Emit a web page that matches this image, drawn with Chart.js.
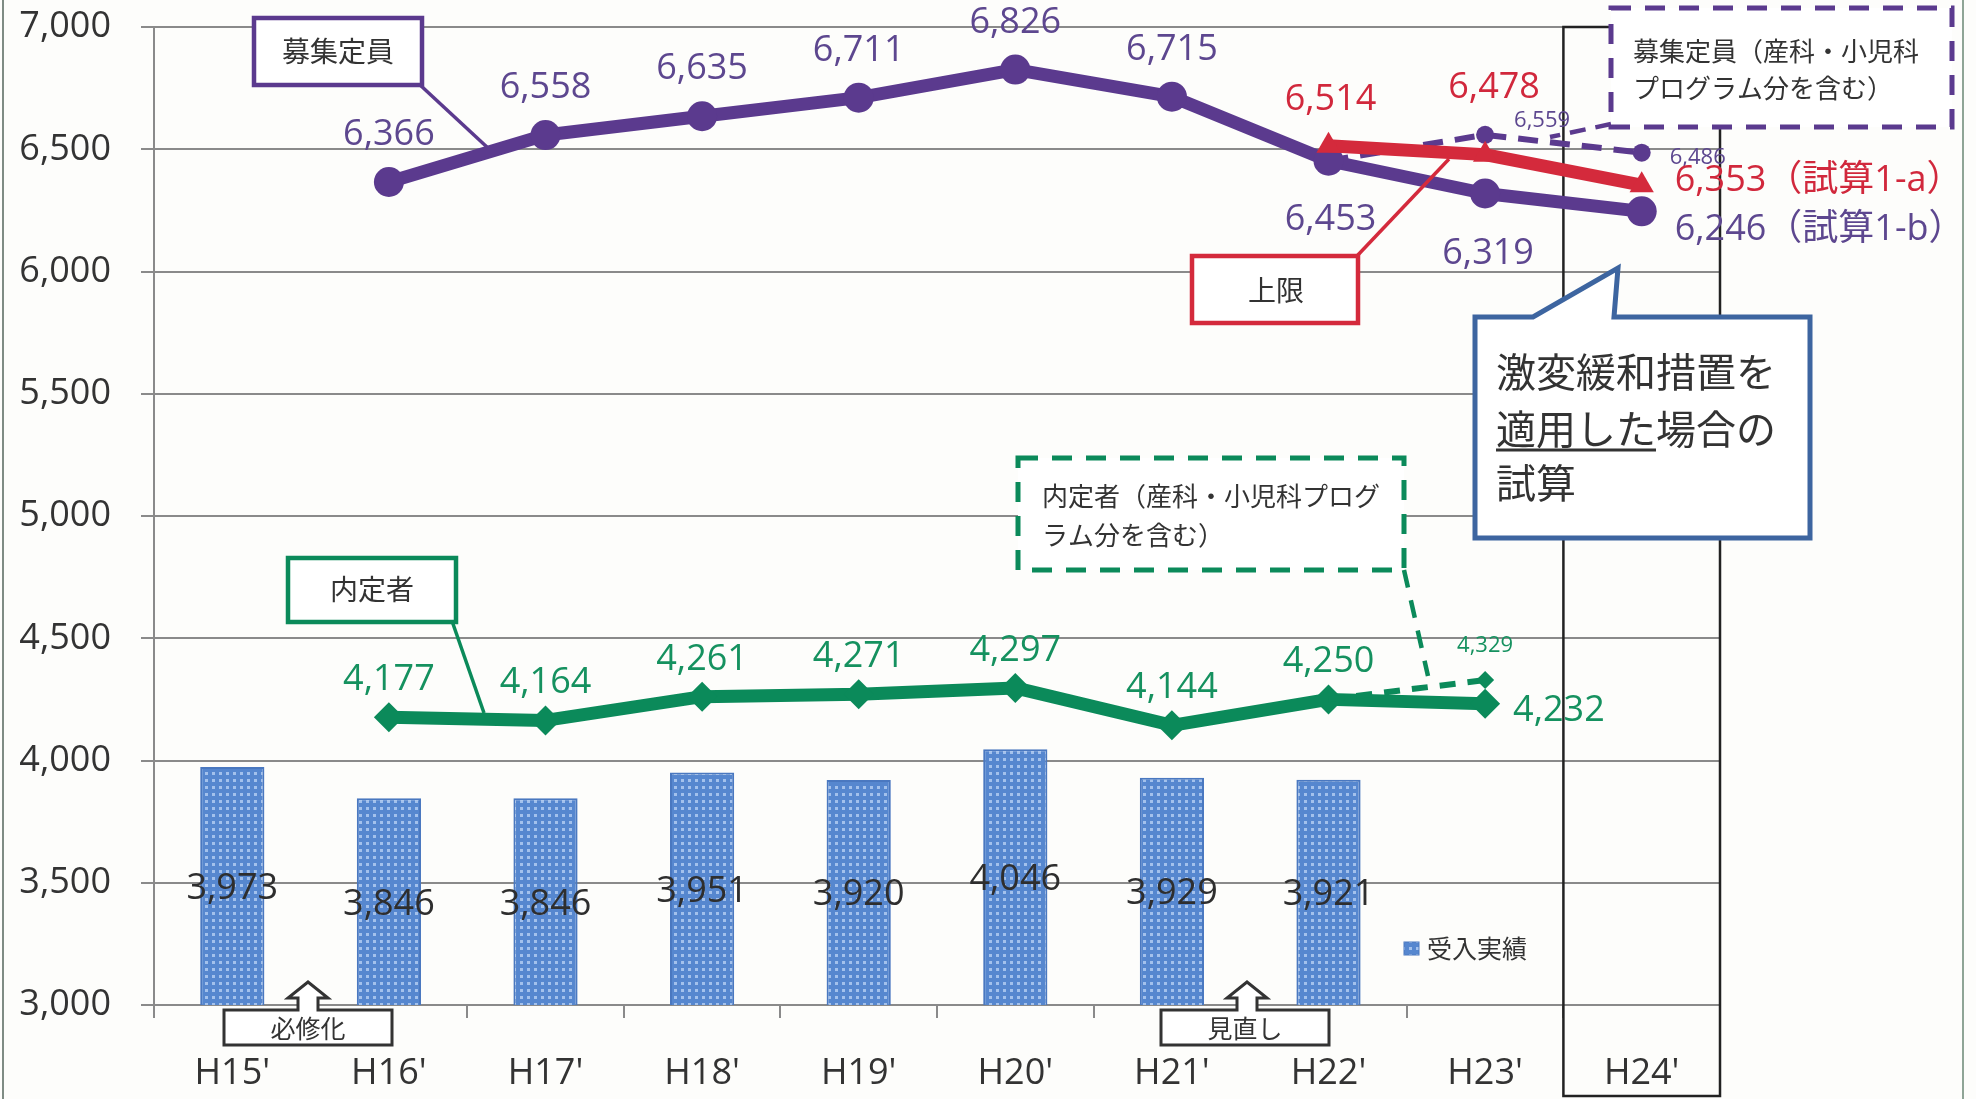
<!DOCTYPE html>
<html><head><meta charset="utf-8">
<script src="https://cdn.jsdelivr.net/npm/chart.js@4"></script>
<style>
html,body{margin:0;padding:0;background:#fdfdfb;}
#wrap{position:relative;width:1976px;height:1099px;}
canvas{display:block;}
</style>
</head><body>
<div id="wrap"><canvas id="c" width="1976" height="1099"></canvas></div>
<script>
// ---------------- data ----------------
const categories = ["H15'","H16'","H17'","H18'","H19'","H20'","H21'","H22'","H23'","H24'"];
const acceptedActual      = [3973,3846,3846,3951,3920,4046,3929,3921,null,null];
const recruitCapacity     = [null,6366,6558,6635,6711,6826,6715,6453,6319,6246];
const recruitCapacityIncl = [null,null,null,null,null,null,null,6453,6559,6486];
const upperLimit          = [null,null,null,null,null,null,null,6514,6478,6353];
const offers              = [null,4177,4164,4261,4271,4297,4144,4250,4232,null];
const offersIncl          = [null,null,null,null,null,null,null,4250,4329,null];
const yTickValues = [3000,3500,4000,4500,5000,5500,6000,6500,7000];
const seriesNames = ['受入実績','募集定員','募集定員（産科・小児科プログラム分を含む）','上限','内定者','内定者（産科・小児科プログラム分を含む）'];
const trialSuffixA = '（試算1-a）';
const trialSuffixB = '（試算1-b）';

// ---------------- styles ----------------
const PURPLE = '#5b3a8e', PURPLE_T = '#5d478f';
const RED = '#d42a3c', RED_T = '#d1283c';
const GREEN = '#0b8a5a', GREEN_T = '#15915f';
const BLUE_CALLOUT = '#3d65a0';
const DARK = '#333333';
const NUM = '"Open Sans","Noto Sans CJK JP",sans-serif';
const CJK = '"Noto Sans CJK JP",sans-serif';

function makePattern() {
  const p = document.createElement('canvas');
  p.width = 7; p.height = 7;
  const g = p.getContext('2d');
  g.fillStyle = '#5687cf'; g.fillRect(0,0,7,7);
  g.fillStyle = '#a3c1ec'; g.fillRect(2,2,3,3);
  return document.getElementById('c').getContext('2d').createPattern(p,'repeat');
}
const barPattern = makePattern();

function fmt(v){ return v.toLocaleString('en-US'); }

function txt(ctx, s, x, y, size, color, align, family, weight) {
  ctx.font = (weight||'normal') + ' ' + size + 'px ' + (family||NUM);
  ctx.fillStyle = color;
  ctx.textAlign = align || 'center';
  ctx.textBaseline = 'alphabetic';
  ctx.fillText(s, x, y + size*0.36);
}

// label placement per dataset
const labelRules = {
  0: i => ({center:true, size:36, color:'#2e2e2e'}),
  1: i => {
    if (i === 7) return {dx:2, dy:56, size:36, color:PURPLE_T};
    if (i === 8) return {dx:3, dy:58, size:36, color:PURPLE_T};
    if (i === 9) return {dx:33, dy:16, size:36, color:PURPLE_T, align:'left', suffix:trialSuffixB};
    return {dx:0, dy:-50, size:36, color:PURPLE_T};
  },
  2: i => {
    if (i === 8) return {dx:57, dy:-16, size:22, color:PURPLE_T};
    if (i === 9) return {dx:28, dy:3, size:22, color:PURPLE_T, align:'left'};
    return null;
  },
  3: i => {
    if (i === 7) return {dx:2, dy:-49, size:36, color:RED_T};
    if (i === 8) return {dx:9, dy:-70, size:36, color:RED_T};
    if (i === 9) return {dx:33, dy:-7, size:36, color:RED_T, align:'left', suffix:trialSuffixA};
    return null;
  },
  4: i => {
    if (i === 8) return {dx:28, dy:4, size:36, color:GREEN_T, align:'left'};
    return {dx:0, dy:-40, size:36, color:GREEN_T};
  },
  5: i => (i === 8 ? {dx:0, dy:-36, size:22, color:GREEN_T} : null)
};

function boxLabel(ctx, x1, y1, x2, y2, stroke, lw, dash) {
  ctx.save();
  ctx.fillStyle = '#ffffff';
  ctx.fillRect(x1, y1, x2-x1, y2-y1);
  ctx.strokeStyle = stroke; ctx.lineWidth = lw;
  if (dash) ctx.setLineDash(dash);
  ctx.strokeRect(x1, y1, x2-x1, y2-y1);
  ctx.restore();
}
function line(ctx, pts, color, lw, dash) {
  ctx.save();
  ctx.strokeStyle = color; ctx.lineWidth = lw;
  if (dash) ctx.setLineDash(dash);
  ctx.beginPath();
  ctx.moveTo(pts[0][0], pts[0][1]);
  for (let k=1;k<pts.length;k++) ctx.lineTo(pts[k][0], pts[k][1]);
  ctx.stroke();
  ctx.restore();
}
function arrowBox(ctx, cx, x1, x2, y1, y2, label) {
  const tip = y1 - 28, headY = y1 - 12, hw = 20, sw = 10;
  ctx.save();
  ctx.beginPath();
  ctx.moveTo(x1, y1);
  ctx.lineTo(cx - sw, y1);
  ctx.lineTo(cx - sw, headY);
  ctx.lineTo(cx - hw, headY);
  ctx.lineTo(cx, tip);
  ctx.lineTo(cx + hw, headY);
  ctx.lineTo(cx + sw, headY);
  ctx.lineTo(cx + sw, y1);
  ctx.lineTo(x2, y1);
  ctx.lineTo(x2, y2);
  ctx.lineTo(x1, y2);
  ctx.closePath();
  ctx.fillStyle = '#ffffff'; ctx.fill();
  ctx.strokeStyle = DARK; ctx.lineWidth = 3; ctx.stroke();
  ctx.restore();
  txt(ctx, label, (x1+x2)/2, (y1+y2)/2 + 1, 25, DARK, 'center', CJK);
}

const annot = {
  id: 'annot',
  beforeDatasetsDraw(chart) {
    const {ctx, chartArea, scales:{x}} = chart;
    const step = x.getPixelForTick(1) - x.getPixelForTick(0);
    const cx = x.getPixelForTick(categories.length-1);
    ctx.save();
    ctx.strokeStyle = '#222'; ctx.lineWidth = 2.5;
    ctx.strokeRect(cx - step/2, chartArea.top, step, chart.height - 3 - chartArea.top);
    ctx.restore();
  },
  afterDatasetsDraw(chart) {
    const ctx = chart.ctx;
    const ys = chart.scales.y;
    // ---- data labels ----
    chart.data.datasets.forEach((ds, di) => {
      const meta = chart.getDatasetMeta(di);
      const rule = labelRules[di];
      ds.data.forEach((v, i) => {
        if (v === null || v === undefined) return;
        const r = rule(i); if (!r) return;
        const el = meta.data[i];
        let x = el.x, y;
        if (r.center) {
          y = (ys.getPixelForValue(v) + ys.getPixelForValue(ys.min)) / 2;
        } else {
          x += r.dx; y = ys.getPixelForValue(v) + r.dy;
        }
        txt(ctx, fmt(v) + (r.suffix||''), x, y, r.size, r.color, r.align||'center');
      });
    });

    // ---- annotation boxes ----
    line(ctx, [[419,84],[488,148]], PURPLE, 3.5);
    boxLabel(ctx, 254, 18, 422, 85, PURPLE, 4.5);
    txt(ctx, '募集定員', 338, 52, 28, DARK, 'center', CJK);

    line(ctx, [[452,621],[484,713]], GREEN, 3.5);
    boxLabel(ctx, 288, 558, 456, 622, GREEN, 4.5);
    txt(ctx, '内定者', 372, 590, 28, DARK, 'center', CJK);

    line(ctx, [[1404,570],[1428,676]], GREEN, 4.5, [18,13]);
    boxLabel(ctx, 1018, 458, 1404, 570, GREEN, 5, [20,14]);
    txt(ctx, '内定者（産科・小児科プログ', 1042, 497, 26, DARK, 'left', CJK);
    txt(ctx, 'ラム分を含む）', 1042, 536, 26, DARK, 'left', CJK);

    line(ctx, [[1611,124],[1550,137]], PURPLE, 4.5, [16,10]);
    boxLabel(ctx, 1611, 8, 1952, 127, PURPLE, 5, [20,14]);
    txt(ctx, '募集定員（産科・小児科', 1633, 52, 26, DARK, 'left', CJK);
    txt(ctx, 'プログラム分を含む）', 1633, 89, 26, DARK, 'left', CJK);

    line(ctx, [[1356,257],[1449,159]], RED, 3.5);
    boxLabel(ctx, 1192, 256, 1358, 323, RED, 4.5);
    txt(ctx, '上限', 1276, 291, 28, DARK, 'center', CJK);

    ctx.save();
    ctx.beginPath();
    ctx.moveTo(1475,317); ctx.lineTo(1533,317); ctx.lineTo(1618,268); ctx.lineTo(1614,317);
    ctx.lineTo(1810,317); ctx.lineTo(1810,538); ctx.lineTo(1475,538); ctx.closePath();
    ctx.fillStyle = '#ffffff'; ctx.fill();
    ctx.strokeStyle = BLUE_CALLOUT; ctx.lineWidth = 5; ctx.lineJoin = 'miter'; ctx.stroke();
    ctx.restore();
    txt(ctx, '激変緩和措置を', 1496, 373, 40, DARK, 'left', CJK);
    txt(ctx, '適用した場合の', 1496, 430, 40, DARK, 'left', CJK);
    txt(ctx, '試算', 1496, 484, 40, DARK, 'left', CJK);
    ctx.save();
    ctx.font = 'normal 40px ' + CJK;
    const uw = ctx.measureText('適用した').width;
    ctx.restore();
    line(ctx, [[1496,450],[1496+uw,450]], DARK, 3);

    arrowBox(ctx, 308, 224, 392, 1010, 1045, '必修化');
    arrowBox(ctx, 1247, 1161, 1329, 1010, 1045, '見直し');

    ctx.save();
    ctx.fillStyle = barPattern; ctx.fillRect(1404,942,15,13);
    ctx.strokeStyle = '#4a78c0'; ctx.lineWidth = 1; ctx.strokeRect(1404,942,15,13);
    ctx.restore();
    txt(ctx, seriesNames[0], 1427, 949, 25, DARK, 'left', CJK);

    line(ctx, [[3,0],[3,1099]], '#7f8c84', 2);
    line(ctx, [[1963,0],[1963,1099]], '#8fa596', 2);
  }
};

const pr = small => (c => (c.dataIndex === 7 ? 0 : small));

new Chart(document.getElementById('c'), {
  type: 'bar',
  data: {
    labels: categories,
    datasets: [
      {type:'bar', label:seriesNames[0], data:acceptedActual, backgroundColor:barPattern,
       borderColor:'#4a78c0', borderWidth:2, barPercentage:0.41, categoryPercentage:1, order:10},
      {type:'line', label:seriesNames[1], data:recruitCapacity, borderColor:PURPLE, backgroundColor:PURPLE,
       borderWidth:13, borderJoinStyle:'round', tension:0, pointStyle:'circle', pointRadius:15,
       pointBorderWidth:0, pointBackgroundColor:PURPLE, order:2},
      {type:'line', label:seriesNames[2], data:recruitCapacityIncl, borderColor:PURPLE, backgroundColor:PURPLE,
       borderWidth:6, borderDash:[20,12], tension:0, pointStyle:'circle', pointRadius:pr(9),
       pointBorderWidth:0, pointBackgroundColor:PURPLE, order:3},
      {type:'line', label:seriesNames[3], data:upperLimit, borderColor:RED, backgroundColor:RED,
       borderWidth:13, borderJoinStyle:'round', tension:0, pointStyle:'triangle', pointRadius:14,
       pointBorderWidth:0, pointBackgroundColor:RED, order:1},
      {type:'line', label:seriesNames[4], data:offers, borderColor:GREEN, backgroundColor:GREEN,
       borderWidth:13, borderJoinStyle:'round', tension:0, pointStyle:'rectRot', pointRadius:15,
       pointBorderWidth:0, pointBackgroundColor:GREEN, order:5},
      {type:'line', label:seriesNames[5], data:offersIncl, borderColor:GREEN, backgroundColor:GREEN,
       borderWidth:6, borderDash:[16,12], tension:0, pointStyle:'rectRot', pointRadius:pr(9),
       pointBorderWidth:0, pointBackgroundColor:GREEN, order:4}
    ]
  },
  options: {
    responsive: false,
    animation: false,
    layout: {padding: {top:27, right:256, left:0, bottom:0}},
    plugins: {legend:{display:false}, tooltip:{enabled:false}},
    scales: {
      x: {
        grid: {drawOnChartArea:false, drawTicks:true, tickLength:13, color:'#8a8a8a', lineWidth:2},
        border: {display:true, color:'#8a8a8a', width:2},
        ticks: {font:{family:NUM, size:36}, color:DARK, padding:34, maxRotation:0, autoSkip:false},
        afterFit(s){ s.height = 94; s.paddingLeft = 0; s.paddingRight = 0; }
      },
      y: {
        min: 3000, max: 7000,
        grid: {color:'#8a8a8a', lineWidth:2, tickLength:13},
        border: {display:true, color:'#8a8a8a', width:2},
        ticks: {font:{family:NUM, size:36}, color:DARK, padding:30, callback: v => fmt(v)},
        afterBuildTicks(s){ s.ticks = yTickValues.map(v => ({value:v})); },
        afterFit(s){ s.width = 154; s.paddingTop = 0; s.paddingBottom = 0; }
      }
    }
  },
  plugins: [annot]
});
</script>
</body></html>
